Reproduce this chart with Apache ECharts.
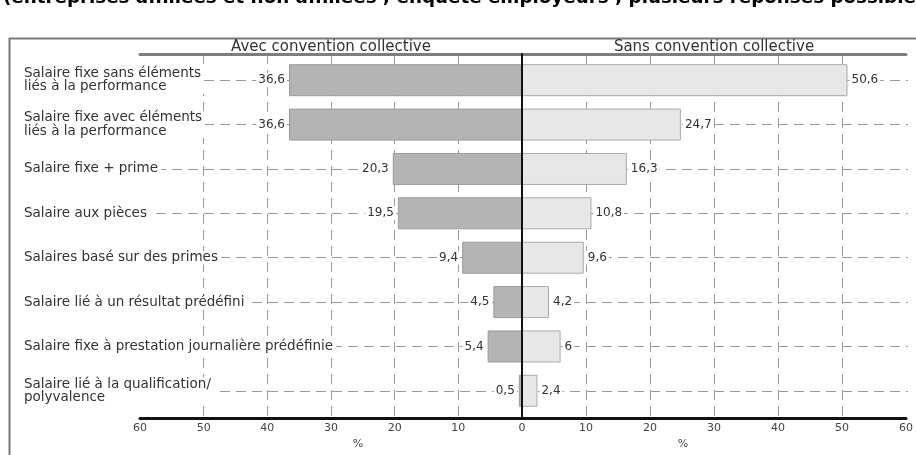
<!DOCTYPE html>
<html>
<head>
<meta charset="utf-8">
<script src="https://cdn.jsdelivr.net/npm/echarts@6/dist/echarts.min.js"></script>
<style>
html,body{margin:0;padding:0;background:#fff;}
#chart{width:916px;height:455px;}
</style>
</head>
<body>
<div id="chart"></div>
<script>
var categories = [
  "Salaire fixe sans éléments\nliés à la performance",
  "Salaire fixe avec éléments\nliés à la performance",
  "Salaire fixe + prime",
  "Salaire aux pièces",
  "Salaires basé sur des primes",
  "Salaire lié à un résultat prédéfini",
  "Salaire fixe à prestation journalière prédéfinie",
  "Salaire lié à la qualification/\npolyvalence"
];
var avecConvention = [36.6, 36.6, 20.3, 19.5, 9.4, 4.5, 5.4, 0.5];
var sansConvention = [50.6, 24.7, 16.3, 10.8, 9.6, 4.2, 6, 2.4];
var groupNames = ["Avec convention collective", "Sans convention collective"];
var titleText = "(entreprises affiliées et non affiliées ; enquête employeurs ; plusieurs réponses possibles)";
var axisName = "%";

var FONT = "DejaVu Sans";
var chart = echarts.init(document.getElementById('chart'), null, {renderer: 'canvas'});
function fmt(p){ return String(p.value).replace('.', ','); }
var dashStyle = {color: '#9a9a9a', width: 1, type: [10, 6]};

var option = {
  animation: false,
  backgroundColor: '#fff',
  textStyle: {fontFamily: FONT},
  graphic: [
    {type: 'rect', left: 7, top: 36, shape: {width: 1000, height: 500}, style: {fill: 'none', stroke: '#7a7a7a', lineWidth: 2}, z: 0},
    {type: 'text', x: 3, y: -1.5, style: {text: titleText, font: 'bold 18.3px "DejaVu Sans"', fill: '#000', verticalAlign: 'middle'}}
  ],
  grid: [
    {left: 140, right: 394, top: 58, height: 355},
    {left: 522, right: 8, top: 58, height: 355},
    {left: 140, right: 394, top: 54, bottom: 34},
    {left: 522, right: 8, top: 54, bottom: 34}
  ],
  xAxis: [
    {gridIndex: 0, type: 'value', min: 0, max: 60, interval: 10, inverse: true, show: false},
    {gridIndex: 1, type: 'value', min: 0, max: 60, interval: 10, show: false},
    {gridIndex: 2, type: 'value', min: 0, max: 60, interval: 10, inverse: true, position: 'bottom',
      axisLine: {show: true, lineStyle: {color: '#111', width: 3}}, axisTick: {show: false},
      axisLabel: {fontSize: 11, color: '#444', margin: 5, fontFamily: FONT},
      splitLine: {show: true, showMinLine: false, showMaxLine: false, lineStyle: dashStyle},
      name: axisName, nameLocation: 'middle', nameGap: 16,
      nameTextStyle: {fontSize: 11, color: '#444', padding: [0, 0, 0, 54], fontFamily: FONT}},
    {gridIndex: 3, type: 'value', min: 0, max: 60, interval: 10, position: 'bottom',
      axisLine: {show: true, lineStyle: {color: '#111', width: 3}}, axisTick: {show: false},
      axisLabel: {fontSize: 11, color: '#444', margin: 5, showMinLabel: false, fontFamily: FONT},
      splitLine: {show: true, showMinLine: false, showMaxLine: false, lineStyle: dashStyle},
      name: axisName, nameLocation: 'middle', nameGap: 16,
      nameTextStyle: {fontSize: 11, color: '#444', padding: [0, 62, 0, 0], fontFamily: FONT}},
    {gridIndex: 2, type: 'value', min: 0, max: 60, inverse: true, position: 'top',
      axisLine: {show: true, onZero: false, lineStyle: {color: '#7d7d7d', width: 3}}, axisTick: {show: false},
      axisLabel: {show: false}, splitLine: {show: false},
      name: groupNames[0], nameLocation: 'middle', nameGap: -1,
      nameTextStyle: {fontSize: 15, color: '#333', fontFamily: FONT}},
    {gridIndex: 3, type: 'value', min: 0, max: 60, position: 'top',
      axisLine: {show: true, onZero: false, lineStyle: {color: '#7d7d7d', width: 3}}, axisTick: {show: false},
      axisLabel: {show: false}, splitLine: {show: false},
      name: groupNames[1], nameLocation: 'middle', nameGap: -1,
      nameTextStyle: {fontSize: 15, color: '#333', fontFamily: FONT}}
  ],
  yAxis: [
    {gridIndex: 0, type: 'category', data: categories, inverse: true,
      axisLine: {show: false}, axisTick: {show: false},
      axisLabel: {interval: 0, align: 'left', margin: 116, fontSize: 13.5, lineHeight: 13.5, color: '#333',
        backgroundColor: '#fff', padding: [0, 3, 0, 0], fontFamily: FONT},
      splitLine: {show: true, interval: 0, alignWithLabel: true, lineStyle: dashStyle}},
    {gridIndex: 1, type: 'category', data: categories, inverse: true,
      axisLine: {show: false}, axisTick: {show: false}, axisLabel: {show: false},
      splitLine: {show: true, interval: 0, alignWithLabel: true, lineStyle: dashStyle}},
    {gridIndex: 2, type: 'category', data: categories, show: false},
    {gridIndex: 3, type: 'category', data: categories, position: 'left', z: 6,
      axisLine: {show: true, lineStyle: {color: '#111', width: 2}}, axisTick: {show: false},
      axisLabel: {show: false}, splitLine: {show: false}}
  ],
  series: [
    {type: 'bar', xAxisIndex: 0, yAxisIndex: 0, data: avecConvention, barWidth: 32,
      itemStyle: {color: '#b4b4b4', borderColor: '#9c9c9c', borderWidth: 1},
      label: {show: true, position: 'left', distance: 2, formatter: fmt, fontSize: 12, color: '#333',
        backgroundColor: '#fff', padding: [1, 2], fontFamily: FONT}},
    {type: 'bar', xAxisIndex: 1, yAxisIndex: 1, data: sansConvention, barWidth: 32,
      itemStyle: {color: '#e7e7e7', borderColor: '#ababab', borderWidth: 1},
      label: {show: true, position: 'right', distance: 2, formatter: fmt, fontSize: 12, color: '#333',
        backgroundColor: '#fff', padding: [1, 2], fontFamily: FONT}}
  ]
};
chart.setOption(option);
</script>
</body>
</html>
